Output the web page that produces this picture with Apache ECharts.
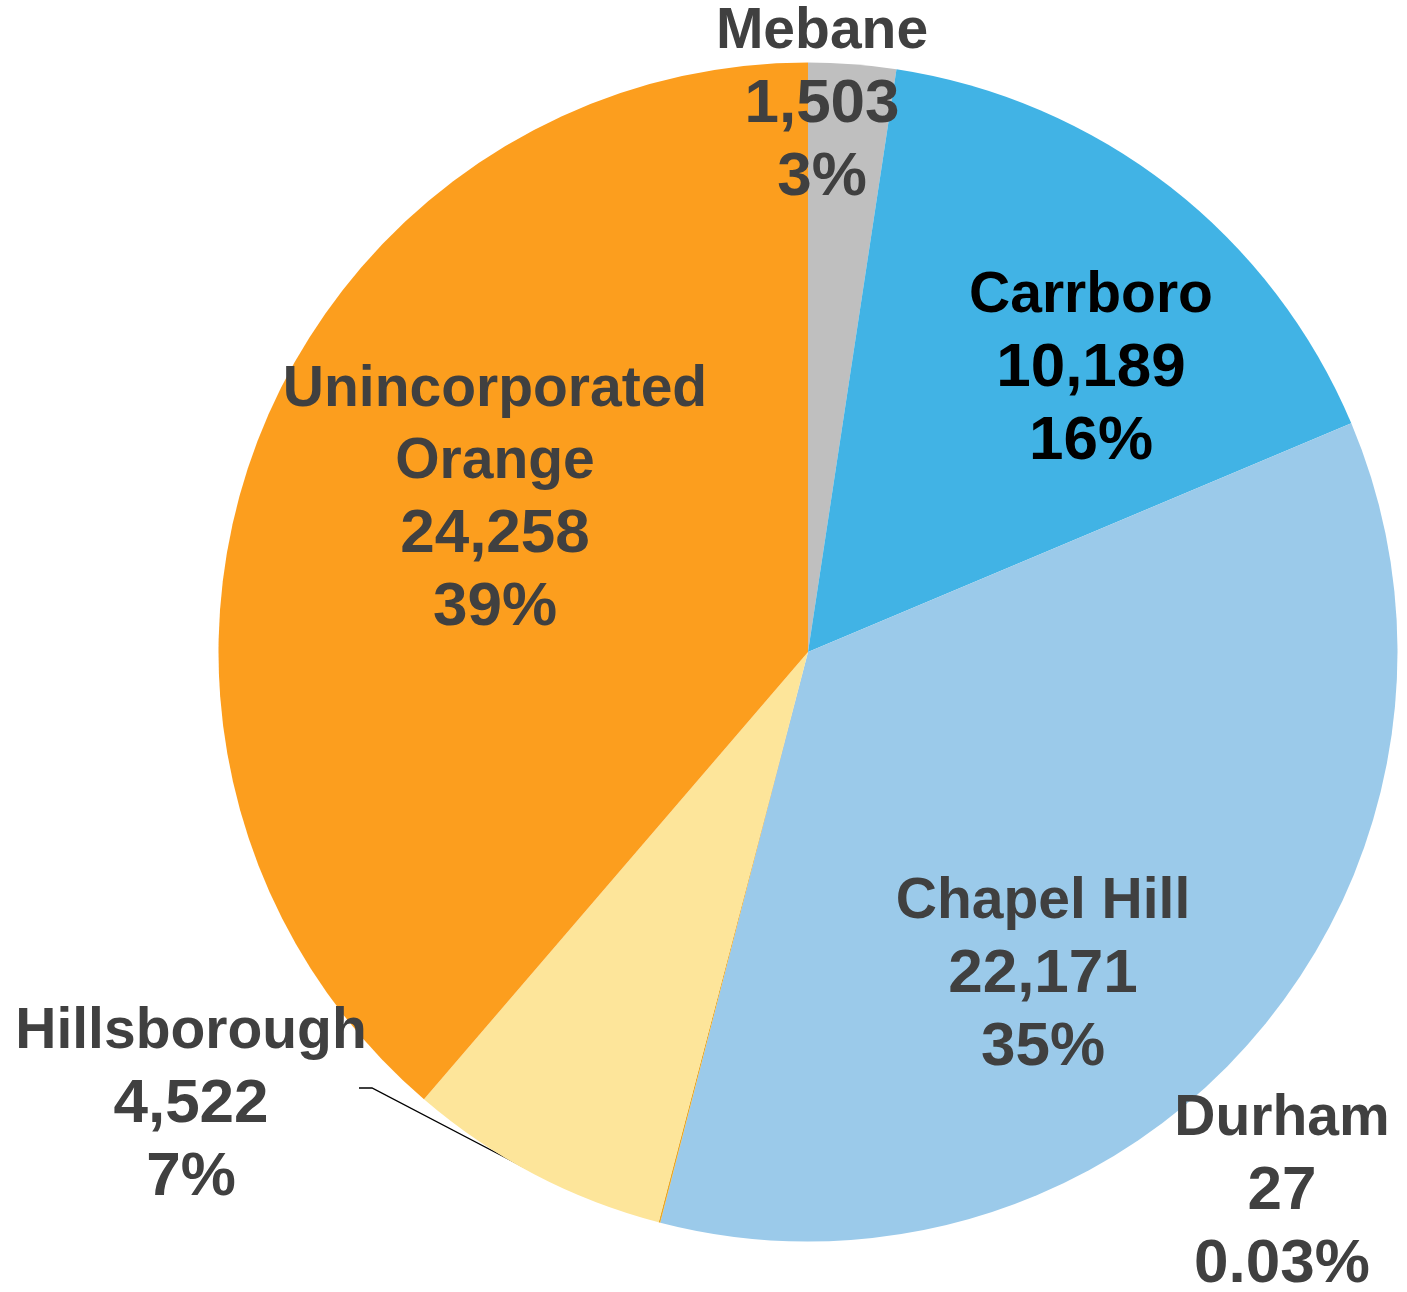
<!DOCTYPE html>
<html>
<head>
<meta charset="utf-8">
<script src="https://cdn.jsdelivr.net/npm/echarts@6/dist/echarts.min.js"></script>
<style>
  html, body { margin: 0; padding: 0; background: #fff; }
  #chart { width: 1407px; height: 1292px; }
</style>
</head>
<body>
<div id="chart"></div>
<script>
// slices, clockwise from 12 o'clock
const names = ['Mebane', 'Carrboro', 'Chapel Hill', 'Durham', 'Hillsborough', 'Unincorporated\nOrange'];
const values = [1503, 10189, 22171, 27, 4522, 24258];
const pctLabels = ['3%', '16%', '35%', '0.03%', '7%', '39%'];
const colors = ['#BFBFBF', '#41B3E5', '#9BCAEA', '#E9A825', '#FDE59A', '#FC9E1E'];

// where each label block is centred (px), plus text colour
const labelSpots = [[822, 105], [1091, 369], [1043, 975], [1282, 1192], [191, 1105], [495, 499]];
const labelColors = ['#404040', '#000000', '#404040', '#404040', '#404040', '#404040'];

const chart = echarts.init(document.getElementById('chart'), null, { renderer: 'canvas' });

const pieData = names.map((n, i) => ({
  name: n,
  value: values[i],
  itemStyle: { color: colors[i] },
  label: {
    color: labelColors[i],
    position: i === 4 ? 'outside' : 'inside',
    rich: {
      t: { color: labelColors[i], fontSize: 57, lineHeight: 72.5, fontWeight: 'bold', fontFamily: 'Liberation Sans, Arial, sans-serif' },
      n: { color: labelColors[i], fontSize: 62, lineHeight: 72.5, fontWeight: 'bold', fontFamily: 'Liberation Sans, Arial, sans-serif' }
    }
  },
  labelLine: { show: i === 4 }
}));

chart.setOption({
  animation: false,
  series: [{
    type: 'pie',
    center: [808, 652],
    radius: [0, 589.5],
    startAngle: 90,
    clockwise: true,
    avoidLabelOverlap: false,
    itemStyle: { borderWidth: 0 },
    label: {
      show: true,
      fontFamily: 'Liberation Sans, Arial, sans-serif',
      fontWeight: 'bold',
      fontSize: 57,
      lineHeight: 72.5,
      align: 'center',
      formatter: p => p.name.split('\n').map(s => '{t|' + s + '}').join('\n') +
        '\n{n|' + p.value.toLocaleString('en-US') + '}\n{n|' + pctLabels[p.dataIndex] + '}'
    },
    labelLine: {
      show: false,
      lineStyle: { color: '#000', width: 1.4 }
    },
    labelLayout: function (p) {
      const spot = labelSpots[p.dataIndex];
      const out = { x: spot[0], y: spot[1], align: 'center', verticalAlign: 'middle' };
      if (p.dataIndex === 4) {
        out.labelLinePoints = [[533, 1172], [372, 1088], [359, 1088]];
      }
      return out;
    },
    data: pieData
  }]
});
</script>
</body>
</html>
